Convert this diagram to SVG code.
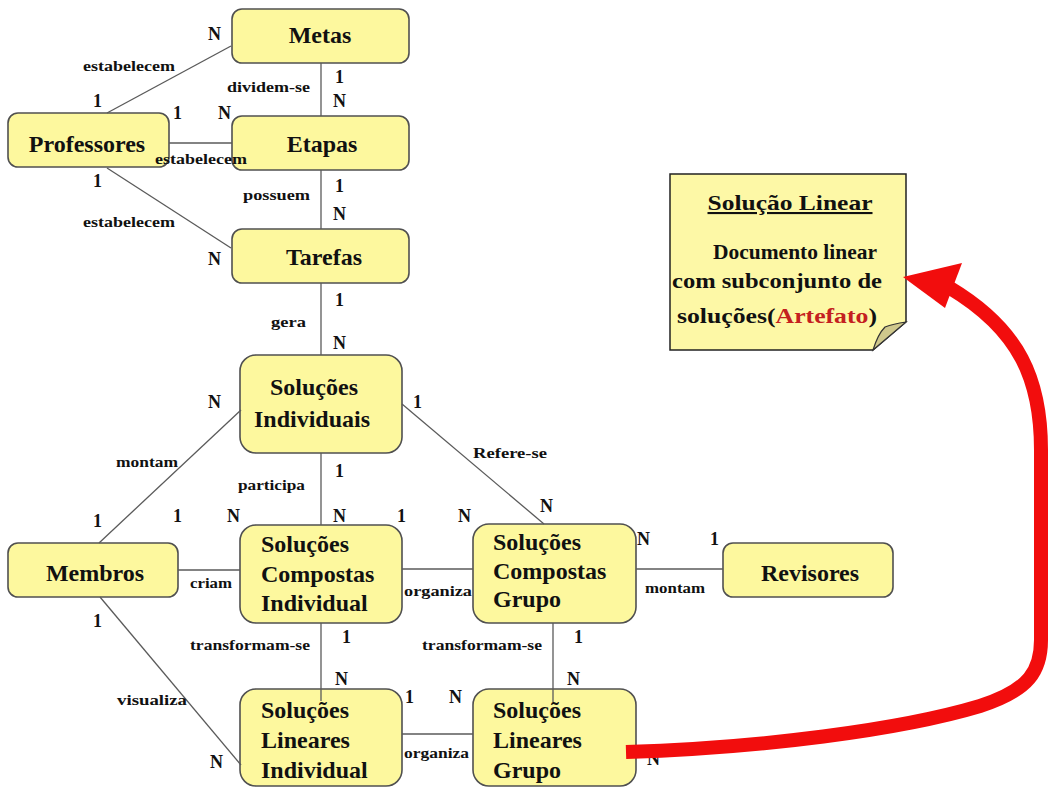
<svg xmlns="http://www.w3.org/2000/svg" width="1048" height="788" viewBox="0 0 1048 788">
  <style>
    text { font-family: "Liberation Serif", Tinos, "Times New Roman", Times, "DejaVu Serif", serif; font-weight: bold; fill: #111; }
    .box { fill: #fdf89e; stroke: #505050; stroke-width: 1.6; }
    .nt { font-size: 24px; }
    .c { text-anchor: middle; }
    .rel { font-size: 15px; }
    .card { font-size: 18px; }
    .conn line { stroke: #5a5a5a; stroke-width: 1.3; }
    .note { font-size: 21px; text-anchor: middle; }
  </style>

  <rect width="1048" height="788" fill="#ffffff"/>

  <!-- entities -->
  <g id="metas">
    <rect class="box" x="232" y="9" width="177" height="54" rx="10"/>
    <text class="nt c" x="320" y="43" font-family="Liberation Serif, serif">Metas</text>
  </g>
  <g id="professores">
    <rect class="box" x="8" y="113" width="161" height="54" rx="10"/>
    <text class="nt c" x="87" y="152">Professores</text>
  </g>
  <g id="etapas">
    <rect class="box" x="232" y="116" width="177" height="54" rx="10"/>
    <text class="nt c" x="322" y="152">Etapas</text>
  </g>
  <g id="tarefas">
    <rect class="box" x="232" y="229" width="177" height="54" rx="10"/>
    <text class="nt c" x="324" y="265">Tarefas</text>
  </g>
  <g id="soluções-individuais">
    <rect class="box" x="240" y="355" width="162" height="98" rx="16"/>
    <text class="nt c" x="314" y="395">Soluções</text>
    <text class="nt c" x="312" y="427">Individuais</text>
  </g>
  <g id="membros">
    <rect class="box" x="8" y="543" width="170" height="54" rx="10"/>
    <text class="nt c" x="95" y="581">Membros</text>
  </g>
  <g id="soluções-compostas-individual">
    <rect class="box" x="240" y="525" width="162" height="98" rx="16"/>
    <text class="nt" x="261" y="552">Soluções</text>
    <text class="nt" x="261" y="582">Compostas</text>
    <text class="nt" x="261" y="611">Individual</text>
  </g>
  <g id="soluções-compostas-grupo">
    <rect class="box" x="473" y="524" width="163" height="99" rx="16"/>
    <text class="nt" x="493" y="550">Soluções</text>
    <text class="nt" x="493" y="579">Compostas</text>
    <text class="nt" x="493" y="607">Grupo</text>
  </g>
  <g id="revisores">
    <rect class="box" x="723" y="543" width="170" height="54" rx="10"/>
    <text class="nt c" x="810" y="581">Revisores</text>
  </g>
  <g id="soluções-lineares-individual">
    <rect class="box" x="240" y="689" width="162" height="97" rx="16"/>
    <text class="nt" x="261" y="718">Soluções</text>
    <text class="nt" x="261" y="748">Lineares</text>
    <text class="nt" x="261" y="778">Individual</text>
  </g>
  <g id="soluções-lineares-grupo">
    <rect class="box" x="473" y="689" width="163" height="97" rx="16"/>
    <text class="nt" x="493" y="718">Soluções</text>
    <text class="nt" x="493" y="748">Lineares</text>
    <text class="nt" x="493" y="778">Grupo</text>
  </g>

  <!-- relationships -->
  <g id="connectors" class="conn">
    <line x1="321" y1="63" x2="321" y2="116"/>
    <line x1="321" y1="170" x2="321" y2="229"/>
    <line x1="321" y1="283" x2="321" y2="355"/>
    <line x1="321" y1="453" x2="321" y2="525"/>
    <line x1="321" y1="623" x2="321" y2="701"/>
    <line x1="553" y1="623" x2="553" y2="702"/>
    <line x1="107" y1="113" x2="231" y2="46"/>
    <line x1="169" y1="143" x2="232" y2="143"/>
    <line x1="107" y1="168" x2="231" y2="248"/>
    <line x1="99" y1="543" x2="241" y2="410"/>
    <line x1="178" y1="570" x2="240" y2="570"/>
    <line x1="100" y1="597" x2="241" y2="765"/>
    <line x1="402" y1="404" x2="544" y2="524"/>
    <line x1="402" y1="569" x2="473" y2="569"/>
    <line x1="636" y1="569" x2="723" y2="569"/>
    <line x1="402" y1="734" x2="473" y2="734"/>
  </g>

  <!-- relationship names -->
  <g id="relationship-labels">
    <text class="rel" x="83" y="71" textLength="92" lengthAdjust="spacingAndGlyphs">estabelecem</text>
    <text class="rel" x="227" y="92" textLength="83" lengthAdjust="spacingAndGlyphs">dividem-se</text>
    <text class="rel" x="155" y="164" textLength="92" lengthAdjust="spacingAndGlyphs">estabelecem</text>
    <text class="rel" x="243" y="200" textLength="67" lengthAdjust="spacingAndGlyphs">possuem</text>
    <text class="rel" x="83" y="227" textLength="92" lengthAdjust="spacingAndGlyphs">estabelecem</text>
    <text class="rel" x="271" y="327" textLength="35" lengthAdjust="spacingAndGlyphs">gera</text>
    <text class="rel" x="473" y="458" textLength="74" lengthAdjust="spacingAndGlyphs">Refere-se</text>
    <text class="rel" x="116" y="467" textLength="62" lengthAdjust="spacingAndGlyphs">montam</text>
    <text class="rel" x="238" y="490" textLength="67" lengthAdjust="spacingAndGlyphs">participa</text>
    <text class="rel" x="190" y="588" textLength="42" lengthAdjust="spacingAndGlyphs">criam</text>
    <text class="rel" x="404" y="596" textLength="68" lengthAdjust="spacingAndGlyphs">organiza</text>
    <text class="rel" x="645" y="593" textLength="60" lengthAdjust="spacingAndGlyphs">montam</text>
    <text class="rel" x="190" y="650" textLength="120" lengthAdjust="spacingAndGlyphs">transformam-se</text>
    <text class="rel" x="422" y="650" textLength="120" lengthAdjust="spacingAndGlyphs">transformam-se</text>
    <text class="rel" x="117" y="705" textLength="70" lengthAdjust="spacingAndGlyphs">visualiza</text>
    <text class="rel" x="404" y="758" textLength="65" lengthAdjust="spacingAndGlyphs">organiza</text>
  </g>

  <!-- cardinalities -->
  <g id="cardinalities">
    <text class="card" x="208" y="40">N</text>
    <text class="card" x="93" y="107">1</text>
    <text class="card" x="173" y="119">1</text>
    <text class="card" x="218" y="119">N</text>
    <text class="card" x="335" y="83">1</text>
    <text class="card" x="333" y="107">N</text>
    <text class="card" x="93" y="187">1</text>
    <text class="card" x="335" y="192">1</text>
    <text class="card" x="333" y="220">N</text>
    <text class="card" x="208" y="265">N</text>
    <text class="card" x="335" y="306">1</text>
    <text class="card" x="333" y="349">N</text>
    <text class="card" x="208" y="408">N</text>
    <text class="card" x="413" y="408">1</text>
    <text class="card" x="335" y="477">1</text>
    <text class="card" x="540" y="512">N</text>
    <text class="card" x="93" y="527">1</text>
    <text class="card" x="173" y="522">1</text>
    <text class="card" x="227" y="522">N</text>
    <text class="card" x="333" y="522">N</text>
    <text class="card" x="397" y="522">1</text>
    <text class="card" x="458" y="522">N</text>
    <text class="card" x="637" y="545">N</text>
    <text class="card" x="710" y="545">1</text>
    <text class="card" x="93" y="627">1</text>
    <text class="card" x="342" y="643">1</text>
    <text class="card" x="574" y="643">1</text>
    <text class="card" x="335" y="685">N</text>
    <text class="card" x="567" y="685">N</text>
    <text class="card" x="405" y="703">1</text>
    <text class="card" x="449" y="703">N</text>
    <text class="card" x="210" y="768">N</text>
    <text class="card" x="647" y="765">N</text>
  </g>

  <!-- sticky note -->
  <g id="nota-solucao-linear">
    <path d="M670 174 H906 V322 L873 350 H670 Z" fill="#fdf8a6" stroke="#222" stroke-width="1.5"/>
    <path d="M873 350 L906 322 Q893 324 885 327 Q878 334 873 350 Z" fill="#cfc88c" stroke="#333" stroke-width="1.2"/>
    <text class="note" x="790" y="210" text-decoration="underline" textLength="165" lengthAdjust="spacingAndGlyphs">Solução Linear</text>
    <text class="note" x="795" y="259" textLength="164" lengthAdjust="spacingAndGlyphs">Documento linear</text>
    <text class="note" x="777" y="288" textLength="210" lengthAdjust="spacingAndGlyphs">com subconjunto de</text>
    <text class="note" x="777" y="323" textLength="200" lengthAdjust="spacingAndGlyphs">soluções(<tspan fill="#c42020">Artefato</tspan>)</text>
  </g>

  <!-- link from Soluções Lineares Grupo to the note -->
  <g id="artefato-link">
    <path d="M626 752 C760 748 900 730 980 706 C1030 690 1041 670 1041 640 L1041 450 C1041 380 1020 330 950 288" fill="none" stroke="#f20d0d" stroke-width="14"/>
    <polygon points="903,277 962,263 945,308" fill="#f20d0d"/>
  </g>
</svg>
